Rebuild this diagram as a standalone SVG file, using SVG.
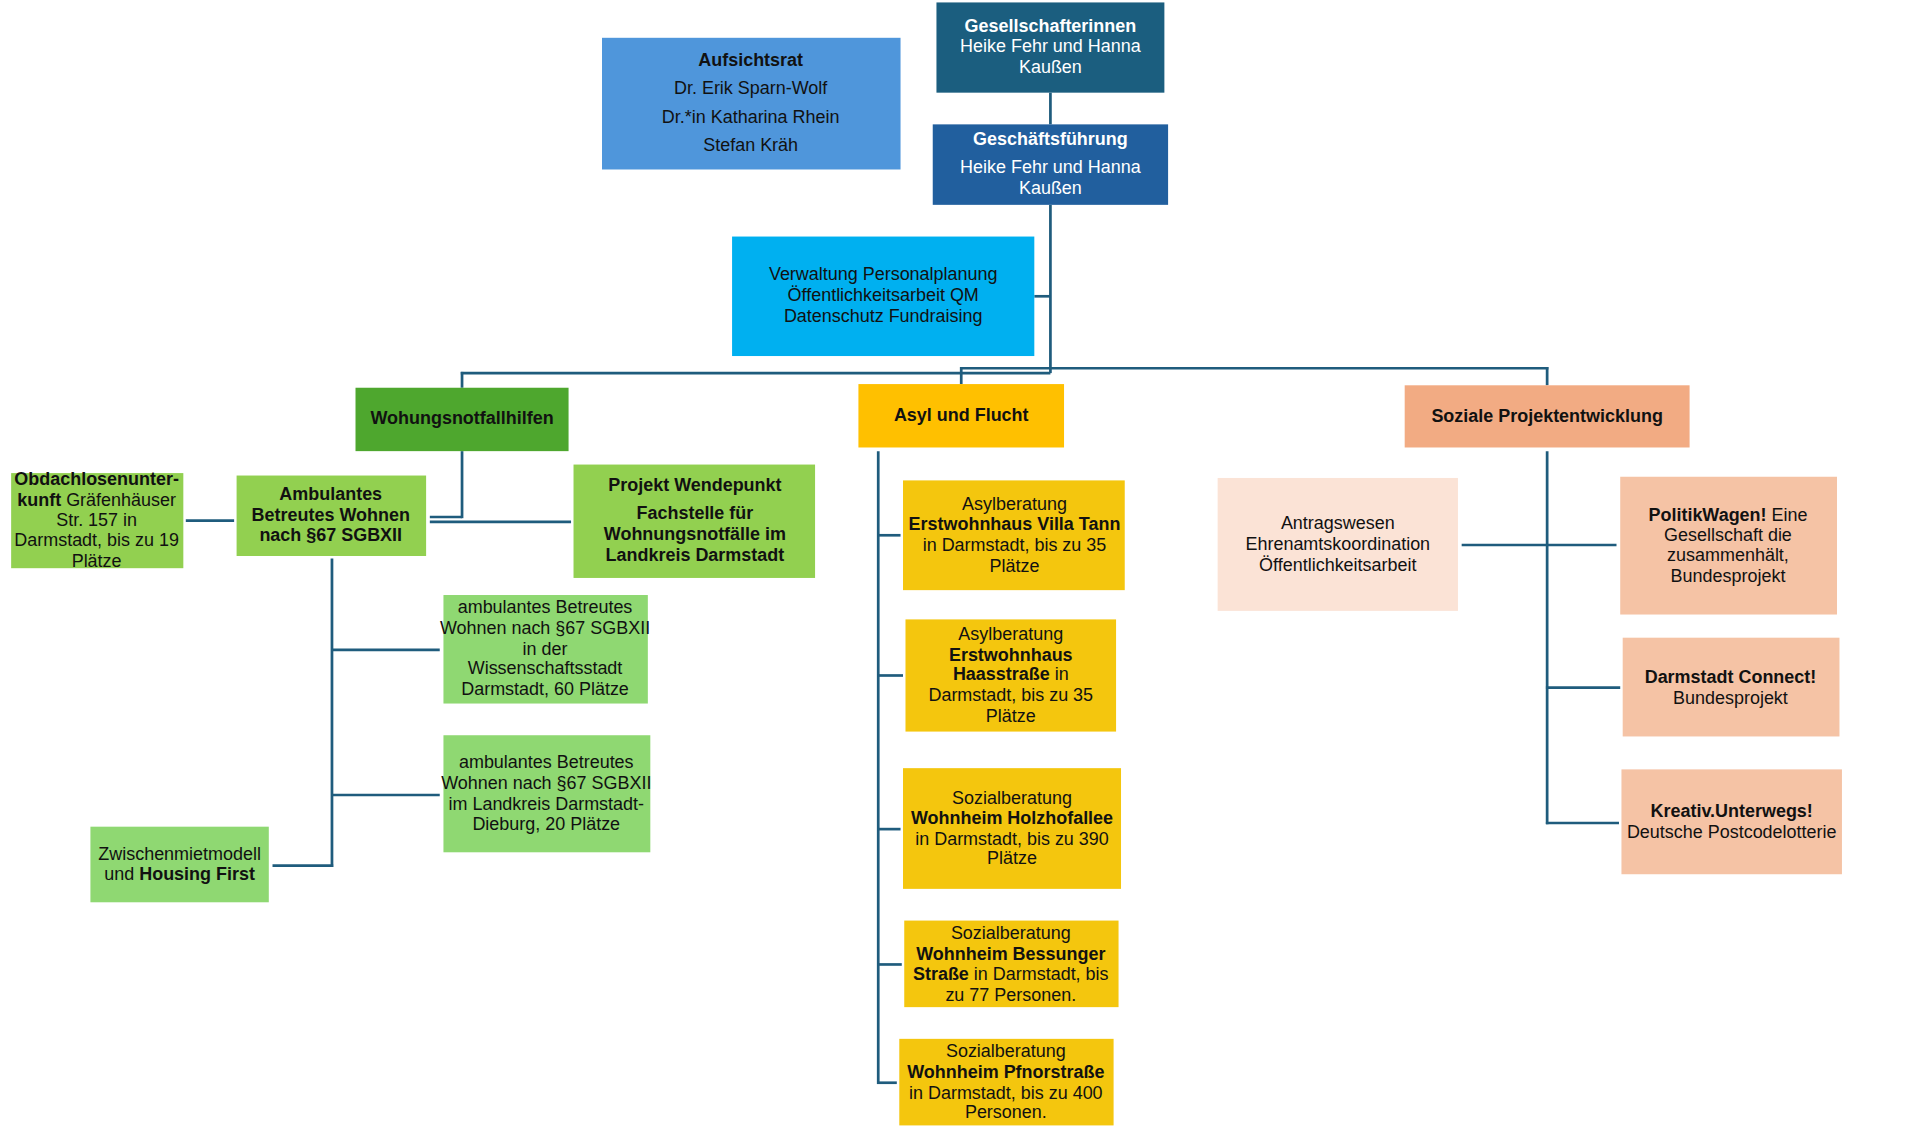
<svg xmlns="http://www.w3.org/2000/svg" width="1920" height="1140" viewBox="0 0 1920 1140">
<style>
text{font-family:"Liberation Sans",Arial,sans-serif;font-size:14.5px;text-anchor:middle;fill:#111}
.w{fill:#fff}
.b{font-weight:bold}
.c line{stroke:#1f5c7d;stroke-width:2.2}
</style>
<rect width="1920" height="1140" fill="#fff"/>
<g transform="scale(1.2387 1.2193)">
<g class="c" id="connectors">
<line x1="848" y1="76" x2="848" y2="102"/>
<line x1="848" y1="168" x2="848" y2="306"/>
<line x1="835" y1="243" x2="848" y2="243"/>
<line x1="372" y1="306" x2="848" y2="306"/>
<line x1="373" y1="305" x2="373" y2="318"/>
<line x1="775" y1="302" x2="1250" y2="302"/>
<line x1="776" y1="301" x2="776" y2="315"/>
<line x1="1249" y1="301" x2="1249" y2="316"/>
<line x1="373" y1="370" x2="373" y2="425"/>
<line x1="347" y1="424" x2="373" y2="424"/>
<line x1="347" y1="428" x2="461" y2="428"/>
<line x1="150" y1="427" x2="189" y2="427"/>
<line x1="268" y1="458" x2="268" y2="711"/>
<line x1="268" y1="533" x2="355" y2="533"/>
<line x1="268" y1="652" x2="355" y2="652"/>
<line x1="220" y1="710" x2="269" y2="710"/>
<line x1="709" y1="370" x2="709" y2="889"/>
<line x1="708" y1="439" x2="727" y2="439"/>
<line x1="708" y1="554" x2="729" y2="554"/>
<line x1="708" y1="680" x2="727" y2="680"/>
<line x1="708" y1="791" x2="728" y2="791"/>
<line x1="708" y1="888" x2="724" y2="888"/>
<line x1="1249" y1="370" x2="1249" y2="676"/>
<line x1="1180" y1="447" x2="1305" y2="447"/>
<line x1="1248" y1="564" x2="1308" y2="564"/>
<line x1="1248" y1="675" x2="1307" y2="675"/>
</g>
<g id="gesellschafterinnen"><rect x="756" y="2" width="184" height="74" fill="#1b5e7f"/>
<text x="848" y="26" class="w b">Gesellschafterinnen</text><text x="848" y="43" class="w">Heike Fehr und Hanna</text><text x="848" y="60" class="w">Kaußen</text></g>
<g id="aufsichtsrat"><rect x="486" y="31" width="241" height="108" fill="#4f96db"/>
<text x="606" y="54" class="b">Aufsichtsrat</text><text x="606" y="77">Dr. Erik Sparn-Wolf</text><text x="606" y="101">Dr.*in Katharina Rhein</text><text x="606" y="124">Stefan Kräh</text></g>
<g id="geschaeftsfuehrung"><rect x="753" y="102" width="190" height="66" fill="#215f9e"/>
<text x="848" y="119" class="w b">Geschäftsführung</text><text x="848" y="142" class="w">Heike Fehr und Hanna</text><text x="848" y="159" class="w">Kaußen</text></g>
<g id="verwaltung"><rect x="591" y="194" width="244" height="98" fill="#00b0f0"/>
<text x="713" y="230">Verwaltung  Personalplanung</text><text x="713" y="247">Öffentlichkeitsarbeit QM</text><text x="713" y="264">Datenschutz Fundraising</text></g>
<g id="wohnungsnotfallhilfen"><rect x="287" y="318" width="172" height="52" fill="#4ea72e"/>
<text x="373" y="348" class="b">Wohungsnotfallhilfen</text></g>
<g id="asyl"><rect x="693" y="315" width="166" height="52" fill="#ffc000"/>
<text x="776" y="345" class="b">Asyl und Flucht</text></g>
<g id="soziale"><rect x="1134" y="316" width="230" height="51" fill="#f2ab83"/>
<text x="1249" y="346" class="b">Soziale Projektentwicklung</text></g>
<g id="obdachlosen"><rect x="9" y="388" width="139" height="78" fill="#92d050"/>
<text x="78" y="398" class="b">Obdachlosenunter-</text><text x="78" y="415"><tspan class="b">kunft</tspan> Gräfenhäuser</text><text x="78" y="431">Str. 157 in</text><text x="78" y="448">Darmstadt, bis zu 19</text><text x="78" y="465">Plätze</text></g>
<g id="ambulantes"><rect x="191" y="390" width="153" height="66" fill="#92d050"/>
<text x="267" y="410" class="b">Ambulantes</text><text x="267" y="427" class="b">Betreutes Wohnen</text><text x="267" y="444" class="b">nach §67 SGBXII</text></g>
<g id="wendepunkt"><rect x="463" y="381" width="195" height="93" fill="#92d050"/>
<text x="561" y="403" class="b">Projekt Wendepunkt</text><text x="561" y="426" class="b">Fachstelle für</text><text x="561" y="443" class="b">Wohnungsnotfälle im</text><text x="561" y="460" class="b">Landkreis Darmstadt</text></g>
<g id="amb1"><rect x="358" y="488" width="165" height="89" fill="#8fd872"/>
<text x="440" y="503">ambulantes Betreutes</text><text x="440" y="520">Wohnen nach §67 SGBXII</text><text x="440" y="537">in der</text><text x="440" y="553">Wissenschaftsstadt</text><text x="440" y="570">Darmstadt, 60 Plätze</text></g>
<g id="amb2"><rect x="358" y="603" width="167" height="96" fill="#8fd872"/>
<text x="441" y="630">ambulantes Betreutes</text><text x="441" y="647">Wohnen nach §67 SGBXII</text><text x="441" y="664">im Landkreis Darmstadt-</text><text x="441" y="681">Dieburg, 20 Plätze</text></g>
<g id="zwischen"><rect x="73" y="678" width="144" height="62" fill="#8fd872"/>
<text x="145" y="705">Zwischenmietmodell</text><text x="145" y="722">und <tspan class="b">Housing First</tspan></text></g>
<g id="villatann"><rect x="729" y="394" width="179" height="90" fill="#f4c60e"/>
<text x="819" y="418">Asylberatung</text><text x="819" y="435" class="b">Erstwohnhaus Villa Tann</text><text x="819" y="452">in Darmstadt,  bis zu 35</text><text x="819" y="469">Plätze</text></g>
<g id="haasstrasse"><rect x="731" y="508" width="170" height="92" fill="#f4c60e"/>
<text x="816" y="525">Asylberatung</text><text x="816" y="542" class="b">Erstwohnhaus</text><text x="816" y="558"><tspan class="b">Haasstraße</tspan> in</text><text x="816" y="575">Darmstadt, bis zu 35</text><text x="816" y="592">Plätze</text></g>
<g id="holzhofallee"><rect x="729" y="630" width="176" height="99" fill="#f4c60e"/>
<text x="817" y="659">Sozialberatung</text><text x="817" y="676" class="b">Wohnheim Holzhofallee</text><text x="817" y="693">in Darmstadt, bis zu 390</text><text x="817" y="709">Plätze</text></g>
<g id="bessunger"><rect x="730" y="755" width="173" height="71" fill="#f4c60e"/>
<text x="816" y="770">Sozialberatung</text><text x="816" y="787" class="b">Wohnheim Bessunger</text><text x="816" y="804"><tspan class="b">Straße</tspan> in Darmstadt, bis</text><text x="816" y="821">zu 77 Personen.</text></g>
<g id="pfnorstrasse"><rect x="726" y="852" width="173" height="71" fill="#f4c60e"/>
<text x="812" y="867">Sozialberatung</text><text x="812" y="884" class="b">Wohnheim Pfnorstraße</text><text x="812" y="901">in Darmstadt, bis zu 400</text><text x="812" y="917">Personen.</text></g>
<g id="antragswesen"><rect x="983" y="392" width="194" height="109" fill="#fbe3d6"/>
<text x="1080" y="434">Antragswesen</text><text x="1080" y="451">Ehrenamtskoordination</text><text x="1080" y="468">Öffentlichkeitsarbeit</text></g>
<g id="politikwagen"><rect x="1308" y="391" width="175" height="113" fill="#f5c3a5"/>
<text x="1395" y="427"><tspan class="b">PolitikWagen!</tspan> Eine</text><text x="1395" y="444">Gesellschaft die</text><text x="1395" y="460">zusammenhält,</text><text x="1395" y="477">Bundesprojekt</text></g>
<g id="connect"><rect x="1310" y="523" width="175" height="81" fill="#f5c3a5"/>
<text x="1397" y="560" class="b">Darmstadt Connect!</text><text x="1397" y="577">Bundesprojekt</text></g>
<g id="kreativ"><rect x="1309" y="631" width="178" height="86" fill="#f5c3a5"/>
<text x="1398" y="670" class="b">Kreativ.Unterwegs!</text><text x="1398" y="687">Deutsche Postcodelotterie</text></g>
</g>
</svg>
